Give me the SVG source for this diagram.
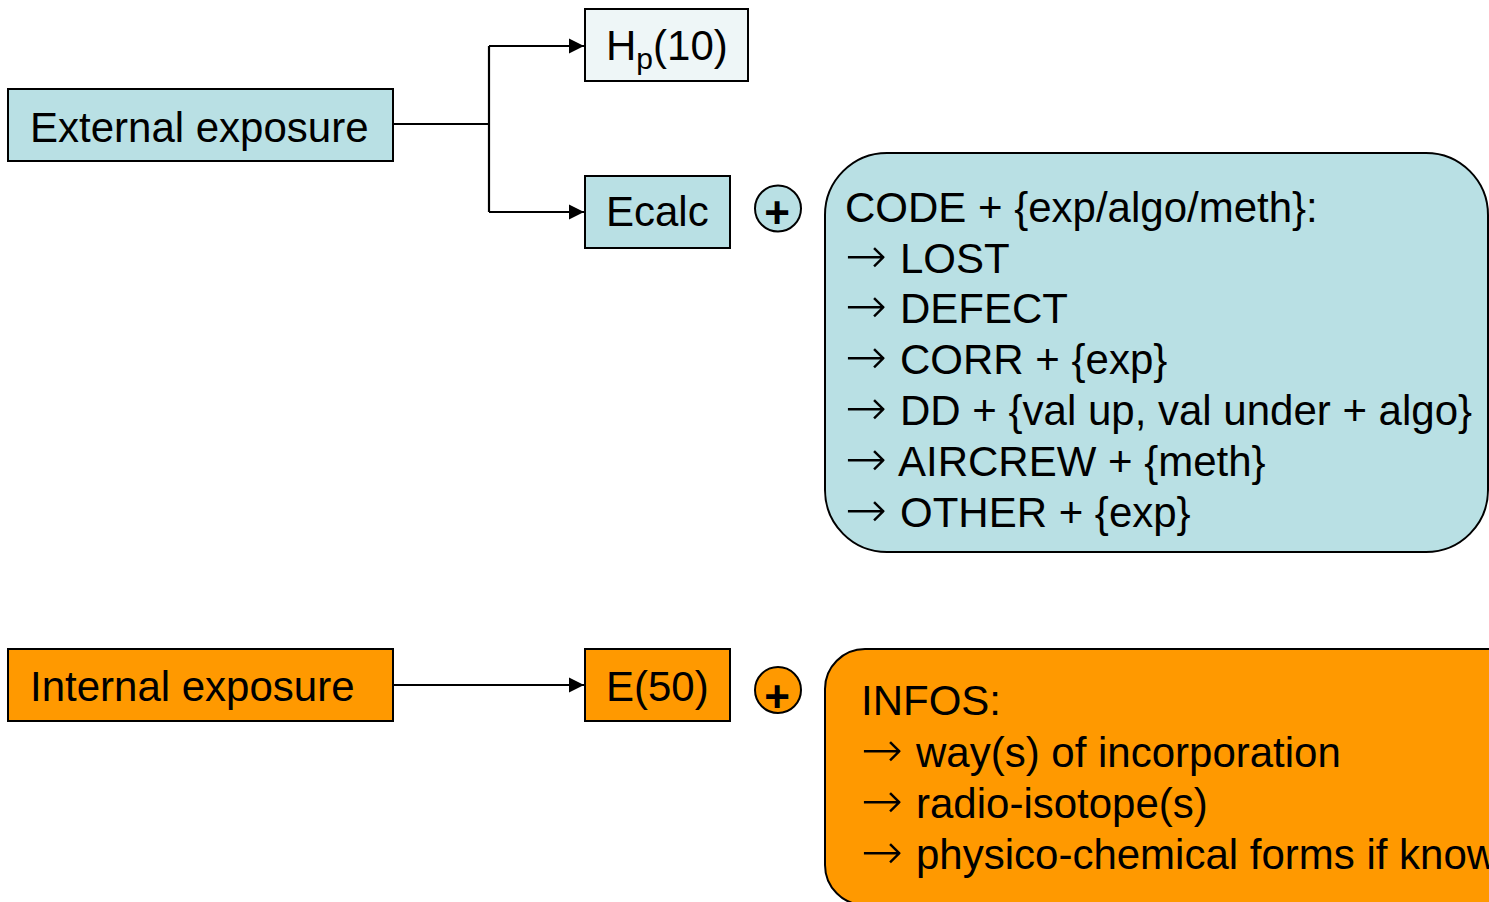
<svg xmlns="http://www.w3.org/2000/svg" width="1489" height="902" viewBox="0 0 1489 902">
  <style>
    text { font-family: "Liberation Sans", Arial, "DejaVu Sans", sans-serif; font-size: 42px; fill: #000; }
    .arr { font-family: "DejaVu Sans", sans-serif; font-size: 50px; font-weight: 200; }
    .box { stroke: #000; stroke-width: 2; }
    .blue { fill: #B9E0E4; }
    .pale { fill: #EEF6F7; }
    .orange { fill: #FF9900; }
    .plus { font-weight: bold; font-size: 44px; text-anchor: middle; }
    .wire { fill: none; stroke: #000; stroke-width: 2.2; }
  </style>
  <defs>
    <marker id="head" viewBox="0 0 10 10" refX="10" refY="5" markerUnits="userSpaceOnUse" markerWidth="15" markerHeight="16" orient="auto">
      <path d="M0,0 L10,5 L0,10 Z" fill="#000"/>
    </marker>
  </defs>
  <rect width="1489" height="902" fill="#fff"/>

  <g id="connectors">
    <path class="wire" d="M393,124 H489"/>
    <path class="wire" d="M489,46 V212"/>
    <path class="wire" d="M489,46 H584" marker-end="url(#head)"/>
    <path class="wire" d="M489,212 H584" marker-end="url(#head)"/>
    <path class="wire" d="M393,685 H584" marker-end="url(#head)"/>
  </g>

  <g id="external-exposure">
    <rect class="box blue" x="8" y="89" width="385" height="72"/>
    <text x="30" y="142">External exposure</text>
  </g>

  <g id="hp10">
    <rect class="box pale" x="585" y="9" width="163" height="72"/>
    <text x="606" y="60">H<tspan font-size="30" dy="9">p</tspan><tspan dy="-9">(10)</tspan></text>
  </g>

  <g id="ecalc">
    <rect class="box blue" x="585" y="176" width="145" height="72"/>
    <text x="606" y="226">Ecalc</text>
  </g>

  <g id="ecalc-plus">
    <circle class="box blue" cx="778" cy="208.5" r="23"/>
    <text class="plus" x="777" y="228">+</text>
  </g>

  <g id="ecalc-codes">
    <rect class="box blue" x="825" y="153" width="663" height="399" rx="62" ry="62"/>
    <text x="845" y="222">CODE + {exp/algo/meth}:</text>
    <text x="845" y="272.5"><tspan class="arr">→</tspan><tspan x="900">LOST</tspan></text>
    <text x="845" y="323"><tspan class="arr">→</tspan><tspan x="900">DEFECT</tspan></text>
    <text x="845" y="374"><tspan class="arr">→</tspan><tspan x="900">CORR + {exp}</tspan></text>
    <text x="845" y="425"><tspan class="arr">→</tspan><tspan x="900">DD + {val up, val under + algo}</tspan></text>
    <text x="845" y="475.5"><tspan class="arr">→</tspan><tspan x="898">AIRCREW + {meth}</tspan></text>
    <text x="845" y="526.5"><tspan class="arr">→</tspan><tspan x="900">OTHER + {exp}</tspan></text>
  </g>

  <g id="internal-exposure">
    <rect class="box orange" x="8" y="649" width="385" height="72"/>
    <text x="30" y="701">Internal exposure</text>
  </g>

  <g id="e50">
    <rect class="box orange" x="585" y="649" width="145" height="72"/>
    <text x="606" y="701">E(50)</text>
  </g>

  <g id="e50-plus">
    <circle class="box orange" cx="778" cy="690" r="23"/>
    <text class="plus" x="777" y="712">+</text>
  </g>

  <g id="e50-infos">
    <rect class="box orange" x="825" y="649" width="760" height="256" rx="40" ry="40"/>
    <text x="861" y="715">INFOS:</text>
    <text x="861" y="766.5"><tspan class="arr">→</tspan><tspan x="916">way(s) of incorporation</tspan></text>
    <text x="861" y="818"><tspan class="arr">→</tspan><tspan x="916">radio-isotope(s)</tspan></text>
    <text x="861" y="869"><tspan class="arr">→</tspan><tspan x="916">physico-chemical forms if known</tspan></text>
  </g>
</svg>
